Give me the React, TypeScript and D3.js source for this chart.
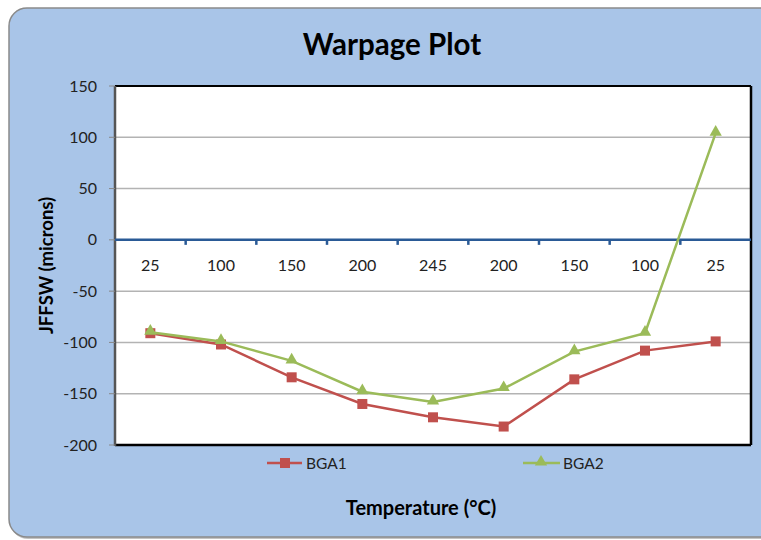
import React from "react";
import * as d3 from "d3";

const categories = ["25", "100", "150", "200", "245", "200", "150", "100", "25"];
const bga1 = [-91, -102, -134, -160, -173, -182, -136, -108, -99];
const bga2 = [-90, -99, -118, -148, -158, -145, -109, -91, 104];
const yTicks = [150, 100, 50, 0, -50, -100, -150, -200];
const seriesNames = ["BGA1", "BGA2"];

const W = 761, H = 540;
const FONT = "Lato, 'Open Sans', sans-serif";
const RED = "#C0504D", GREEN = "#9BBB59";

export default function App() {
  const left = 115, right = 751, top = 86, bottom = 445;
  const idx = categories.map((_, i) => String(i));
  const x = d3.scaleBand<string>().domain(idx).range([left, right]).paddingInner(0).paddingOuter(0);
  const y = d3.scaleLinear().domain([-200, 150]).range([bottom, top]);
  const cx = (i: number) => (x(String(i)) as number) + x.bandwidth() / 2;
  const line = d3.line<number>().x((_, i) => cx(i)).y((d) => y(d));
  const y0 = y(0);
  const tri = d3.symbol().type(d3.symbolTriangle).size(65)();

  return (
    <svg width={W} height={H} style={{ position: "absolute", left: 0, top: 0 }}>
      <rect x={0} y={0} width={W} height={H} fill="#fff" />
      <rect x={10} y={9} width={770} height={530} rx={18} fill="#888" opacity={0.5} />
      <rect x={9} y={8} width={770} height={529} rx={18} fill="#A9C5E8" stroke="#8a8a8a" strokeWidth={1.5} />
      <text x={392} y={55} textAnchor="middle" fontFamily={FONT} fontWeight="bold" fontSize={29.5} fill="#000">Warpage Plot</text>

      <rect x={left} y={top} width={right - left} height={bottom - top} fill="#fff" />
      {yTicks.filter((t) => t !== 0 && t !== 150 && t !== -200).map((t) => (
        <line key={t} x1={left} x2={right} y1={y(t)} y2={y(t)} stroke="#B3B3B3" strokeWidth={1.5} />
      ))}
      {/* plot border */}
      <line x1={left} x2={right} y1={top} y2={top} stroke="#000" strokeWidth={2} />
      <line x1={right} x2={right} y1={top} y2={bottom} stroke="#000" strokeWidth={2.5} />
      <line x1={left} x2={right} y1={bottom} y2={bottom} stroke="#000" strokeWidth={2.5} />
      <line x1={left} x2={left} y1={top} y2={bottom + 1} stroke="#555" strokeWidth={2.5} />
      {yTicks.map((t) => (
        <g key={t}>
          <line x1={left - 6} x2={left} y1={y(t)} y2={y(t)} stroke="#888" strokeWidth={1} />
          <text x={97} y={y(t) + 5.5} textAnchor="end" fontFamily={FONT} fontSize={16} fill="#222">{t}</text>
        </g>
      ))}

      {/* zero category axis */}
      <line x1={left} x2={right} y1={y0} y2={y0} stroke="#2A5A96" strokeWidth={2.5} />
      {idx.slice(1).map((k) => (
        <line key={k} x1={x(k) as number} x2={x(k) as number} y1={y0} y2={y0 + 5} stroke="#2A5A96" strokeWidth={2.5} />
      ))}
      {categories.map((c, i) => (
        <text key={i} x={cx(i)} y={y0 + 31} textAnchor="middle" fontFamily={FONT} fontSize={16} fill="#222">{c}</text>
      ))}

      {/* series */}
      <path d={line(bga1) as string} fill="none" stroke={RED} strokeWidth={2.5} />
      {bga1.map((v, i) => (
        <rect key={i} x={cx(i) - 5} y={y(v) - 5} width={10} height={10} fill={RED} />
      ))}
      <path d={line(bga2) as string} fill="none" stroke={GREEN} strokeWidth={2.5} />
      {bga2.map((v, i) => (
        <path key={i} d={tri as string} transform={`translate(${cx(i)},${y(v) - 1})`} fill={GREEN} />
      ))}

      {/* legend */}
      <line x1={267} x2={302} y1={463} y2={463} stroke={RED} strokeWidth={2.5} />
      <rect x={280} y={458} width={10} height={10} fill={RED} />
      <text x={306} y={469} fontFamily={FONT} fontSize={15.5} fill="#222">{seriesNames[0]}</text>
      <line x1={523} x2={560} y1={463} y2={463} stroke={GREEN} strokeWidth={2.5} />
      <path d={tri as string} transform={`translate(541,462)`} fill={GREEN} />
      <text x={563} y={469} fontFamily={FONT} fontSize={15.5} fill="#222">{seriesNames[1]}</text>

      <text x={421} y={515} textAnchor="middle" fontFamily={FONT} fontWeight="bold" fontSize={20} fill="#000">Temperature (°C)</text>
      <text transform={`translate(53,${(top + bottom) / 2}) rotate(-90)`} textAnchor="middle" fontFamily={FONT} fontWeight="bold" fontSize={18.5} fill="#000">JFFSW (microns)</text>
    </svg>
  );
}
